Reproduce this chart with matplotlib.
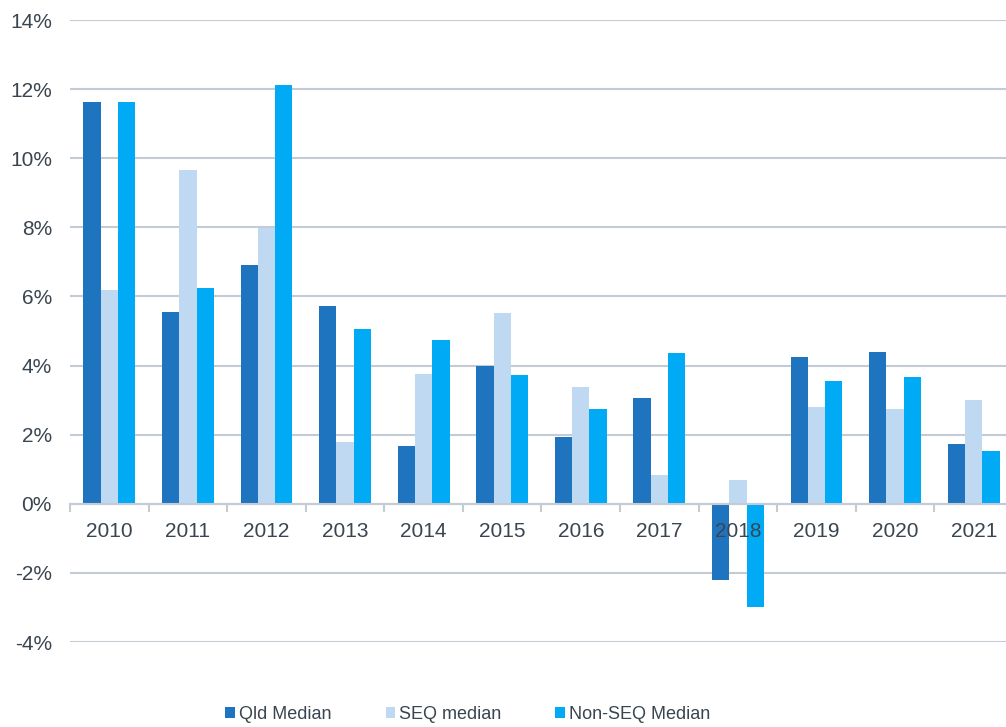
import matplotlib
matplotlib.use("Agg")
import matplotlib.pyplot as plt
import numpy as np
from matplotlib.ticker import FuncFormatter, MultipleLocator

plt.rcParams["font.family"] = ["Liberation Sans", "DejaVu Sans"]

years = ["2010", "2011", "2012", "2013", "2014", "2015", "2016", "2017", "2018", "2019", "2020", "2021"]
qld_median = [11.62, 5.55, 6.91, 5.72, 1.68, 3.99, 1.94, 3.06, -2.22, 4.25, 4.39, 1.73]
seq_median = [6.18, 9.65, 7.98, 1.79, 3.76, 5.52, 3.38, 0.84, 0.69, 2.80, 2.75, 3.00]
non_seq_median = [11.62, 6.24, 12.11, 5.06, 4.74, 3.73, 2.75, 4.36, -3.00, 3.55, 3.67, 1.53]

series = [
    ("Qld Median", qld_median, "#1f74bf"),
    ("SEQ median", seq_median, "#bed9f1"),
    ("Non-SEQ Median", non_seq_median, "#00aaf5"),
]
text_color = "#3a4550"
grid_color = "#c3ccd4"

fig = plt.figure(figsize=(10.06, 7.27), dpi=100)
ax = fig.add_axes([70 / 1006, 85 / 727, 943 / 1006, 622 / 727])

x = np.arange(len(years))
width = 0.22
for i, (label, values, color) in enumerate(series):
    ax.bar(x + (i - 1) * width, values, width, color=color, label=label, zorder=3)

ax.set_xlim(-0.5, len(years) - 0.5)
ax.set_ylim(-4, 14)
ax.yaxis.set_major_locator(MultipleLocator(2))
ax.yaxis.set_major_formatter(FuncFormatter(lambda v, _: f"{v:.0f}%"))
ax.grid(axis="y", color=grid_color, linewidth=1.5, zorder=0)

for side in ("left", "right", "top"):
    ax.spines[side].set_visible(False)
ax.spines["bottom"].set_position(("data", 0))
ax.spines["bottom"].set_color(grid_color)
ax.spines["bottom"].set_linewidth(1.5)
ax.spines["bottom"].set_zorder(4)

# year labels sit on top of the bars (2018 overlaps its own bars)
ax.xaxis.set_zorder(5)
ax.set_xticks(x)
ax.set_xticklabels(years)
ax.set_xticks(np.arange(len(years) + 1) - 0.5, minor=True)
ax.tick_params(axis="x", which="major", length=0, pad=13, labelsize=15, labelcolor=text_color)
ax.tick_params(axis="x", which="minor", length=6, width=1.5, color=grid_color)
ax.tick_params(axis="y", length=0, pad=13, labelsize=15, labelcolor=text_color)

fig.legend(
    loc="lower center",
    bbox_to_anchor=(0.465, -0.017),
    ncol=3,
    frameon=False,
    fontsize=13,
    handlelength=0.55,
    handleheight=0.55,
    handletextpad=0.2,
    columnspacing=3.0,
    labelcolor=text_color,
)

fig.savefig("out.png", dpi=100)
